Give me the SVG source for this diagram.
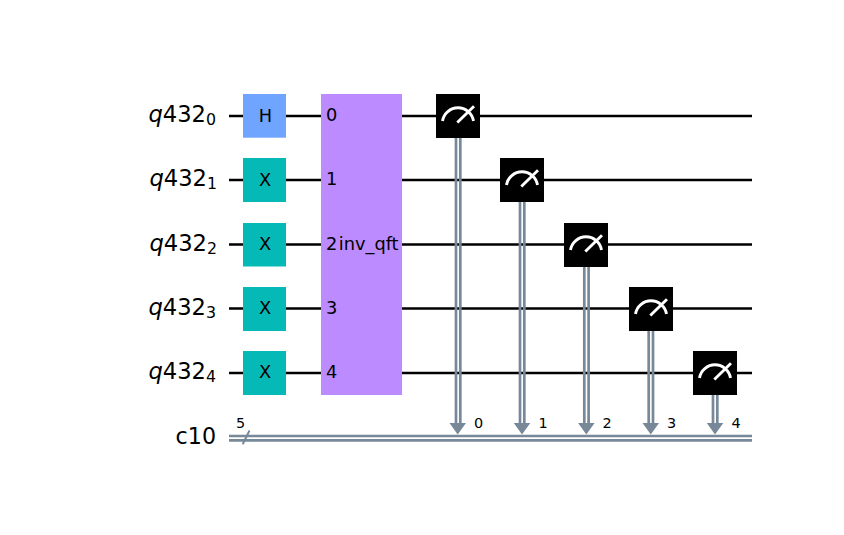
<svg xmlns="http://www.w3.org/2000/svg" xmlns:xlink="http://www.w3.org/1999/xlink" width="844" height="535" viewBox="0 0 844 535">
<style>
text{font-family:"DejaVu Sans",sans-serif;fill:#000}
.w{stroke:#000;stroke-width:2.7;fill:none}
.c{stroke:#778899;stroke-width:2.7;fill:none}
.sl{stroke:#778899;stroke-width:2;fill:none}
.a{fill:#778899;stroke:none}
.g{font-size:17.8px;text-anchor:middle}
.l{font-size:22.6px;text-anchor:end}
.l .i{font-style:oblique}
.s{font-size:15.8px}
.n{font-size:14.4px}
.b{fill:#000}
.d{stroke:#fff;stroke-width:2.9;fill:none}
.h{fill:#05BAB6}
.q{font-size:17.8px}
</style>
<defs>
<g id="dial"><rect class="b" x="-22" y="-22" width="44" height="44"/><path class="d" d="M-15.500 5A15.700 15.700 0 0 1 15.500 5M-0.700 6.500L16 -9.700"/></g>
</defs>
<g id="wires">
<path class="w" d="M229 116H752M229 180H752M229 244.500H752M229 308.500H752M229 373H752"/>
</g>
<g id="connectors">
<path class="c" d="M229 436H752M229 440.300H752"/>
<path class="sl" d="M242.700 444.300L249.500 430.500"/>
<path class="c" d="M456 138V424M460.300 138V424M520 202V424M524.300 202V424M584.300 266V424M588.600 266V424M648.700 331V424M653 331V424M713 395V424M717.300 395V424"/>
<path class="a" d="M449.500 423H466L457.700 434.500ZM513.800 423H530.300L522 434.500ZM578.100 423H594.600L586.300 434.500ZM642.500 423H659L650.800 434.500ZM706.800 423H723.300L715 434.500Z"/>
</g>
<g id="label-q0"><text class="l" x="216" y="122"><tspan class="i">q</tspan>432<tspan class="s" dy="3">0</tspan></text></g>
<g id="label-q1"><text class="l" x="217" y="186"><tspan class="i">q</tspan>432<tspan class="s" dy="3">1</tspan></text></g>
<g id="label-q2"><text class="l" x="217" y="250.500"><tspan class="i">q</tspan>432<tspan class="s" dy="3">2</tspan></text></g>
<g id="label-q3"><text class="l" x="216" y="314.500"><tspan class="i">q</tspan>432<tspan class="s" dy="3">3</tspan></text></g>
<g id="label-q4"><text class="l" x="216" y="379"><tspan class="i">q</tspan>432<tspan class="s" dy="3">4</tspan></text></g>
<g id="label-c10"><text class="l" style="font-size:22.2px" x="216" y="444">c10</text><text class="n" x="236" y="428.300">5</text></g>
<g id="gate-h"><rect x="243" y="94" width="43" height="43.700" fill="#6FA4FF"/><text class="g" x="265.500" y="121.500">H</text></g>
<g id="gate-x1"><rect class="h" x="243" y="158" width="43" height="44"/><text class="g" x="265" y="185.500">X</text></g>
<g id="gate-x2"><rect class="h" x="243" y="223" width="43" height="43.500"/><text class="g" x="265" y="250">X</text></g>
<g id="gate-x3"><rect class="h" x="243" y="287" width="43" height="44"/><text class="g" x="265" y="314">X</text></g>
<g id="gate-x4"><rect class="h" x="243" y="351" width="43" height="44"/><text class="g" x="265" y="378">X</text></g>
<g id="inv-qft"><rect x="321" y="94" width="81" height="301" fill="#BB8BFF"/>
<text class="q" x="326" y="121">0</text><text class="q" x="326" y="185">1</text><text class="q" x="326" y="250">2</text><text class="q" x="326" y="314">3</text><text class="q" x="326" y="378">4</text>
<text class="q" x="368.700" y="250" text-anchor="middle">inv_qft</text></g>
<g id="measure-0"><use xlink:href="#dial" x="458" y="116"/><text class="n" x="474" y="428.300">0</text></g>
<g id="measure-1"><use xlink:href="#dial" x="522" y="180"/><text class="n" x="538.500" y="428.300">1</text></g>
<g id="measure-2"><use xlink:href="#dial" x="586" y="245"/><text class="n" x="602.500" y="428.300">2</text></g>
<g id="measure-3"><use xlink:href="#dial" x="651" y="309"/><text class="n" x="667" y="428.300">3</text></g>
<g id="measure-4"><use xlink:href="#dial" x="715" y="373"/><text class="n" x="731.500" y="428.300">4</text></g>
</svg>
